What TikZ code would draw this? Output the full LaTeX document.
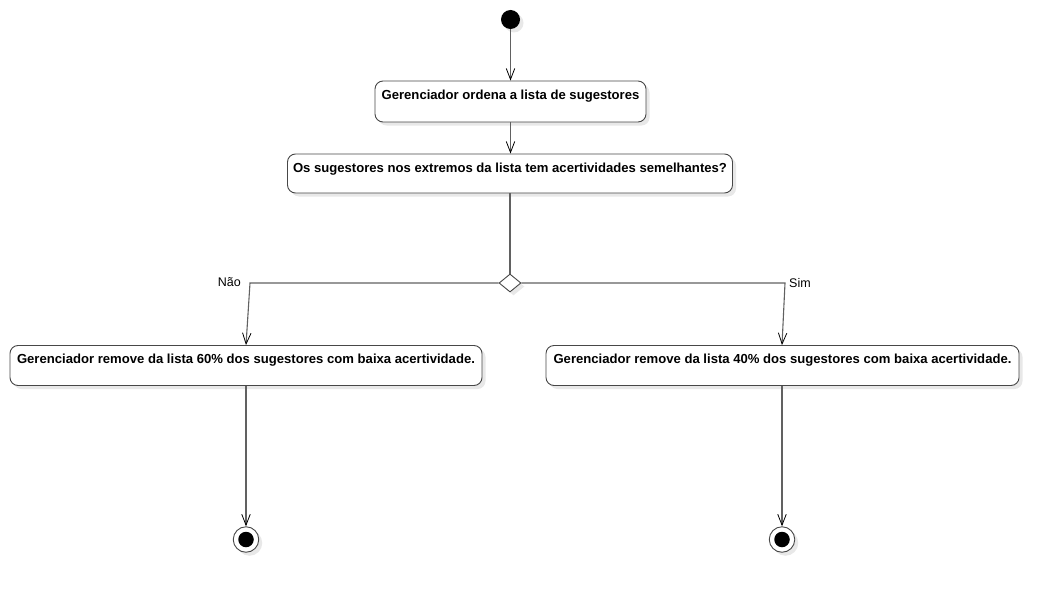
\documentclass[tikz,border=0pt]{standalone}
\usepackage{fontspec}
\setmainfont{Liberation Sans}
\usetikzlibrary{arrows.meta,shapes.geometric,calc,shadows}
\begin{document}
\begin{tikzpicture}[x=1pt,y=-1pt,
  flow/.style={draw=black!62, line width=1.1pt, -{Straight Barb[length=11pt,width=8.5pt,line width=0.8pt,color=black]}},
  plain/.style={draw=black!62, line width=1.1pt},
  shad/.style={drop shadow={shadow xshift=3.5pt,shadow yshift=-3.5pt,fill=black!9,opacity=1}},
  actbox/.style={draw=black!72, line width=0.9pt, rounded corners=8pt, fill=white, inner sep=0pt, shad},
  acttxt/.style={font=\fontsize{13.1}{15}\selectfont\bfseries, inner sep=0pt, anchor=base},
  lbl/.style={font=\fontsize{12.5}{14}\selectfont, inner sep=0pt},
  dec/.style={diamond, draw=black!72, line width=0.9pt, fill=white, minimum width=22pt, minimum height=18pt, inner sep=0pt, shad},
  startnode/.style={circle, fill=black, minimum size=19pt, inner sep=0pt, shad},
  endouter/.style={circle, draw=black!72, line width=0.9pt, fill=white, minimum size=25.5pt, inner sep=0pt, shad},
  endinner/.style={circle, fill=black, minimum size=15.5pt, inner sep=0pt}
]
\useasboundingbox (0,0) rectangle (1059,591);

\node[startnode] (start) at (510.5,19.5) {};

\node[actbox, minimum width=271pt, minimum height=41pt] (b1) at (510.5,101.5) {};
\node[acttxt] (t1) at ($(b1.north)+(0,19)$) {Gerenciador ordena a lista de sugestores};

\node[actbox, minimum width=445pt, minimum height=39pt] (b2) at (510,173.5) {};
\node[acttxt] (t2) at ($(b2.north)+(0,18.5)$) {Os sugestores nos extremos da lista tem acertividades semelhantes?};

\node[dec] (d) at (510,283) {};

\node[actbox, minimum width=472pt, minimum height=40pt] (bl) at (246,365.5) {};
\node[acttxt] (tl) at ($(bl.north)+(0,18.5)$) {Gerenciador remove da lista 60\% dos sugestores com baixa acertividade.};

\node[actbox, minimum width=473pt, minimum height=40pt] (br) at (782.5,365.5) {};
\node[acttxt] (tr) at ($(br.north)+(0,18.5)$) {Gerenciador remove da lista 40\% dos sugestores com baixa acertividade.};

\node[endouter] (e1) at (246,539.5) {};
\node[endinner] (e1i) at (e1) {};
\node[endouter] (e2) at (782,539.5) {};
\node[endinner] (e2i) at (e2) {};

\coordinate (cl) at (250,283);
\coordinate (cr) at (785,283);

\draw[flow] (start) -- (b1);
\draw[flow] (b1) -- (b2.north -| b1.south);
\draw[plain] (b2.south -| d) -- (d.north);
\draw[flow] (d.west) -- (cl) -- (bl.north);
\draw[flow] (d.east) -- (cr) -- (br.north -| 782,0);
\draw[flow] (bl.south) -- (e1);
\draw[flow] (br.south -| e2) -- (e2);

\node[lbl, anchor=east] (lnao) at (241,282) {Não};
\node[lbl, anchor=west] (lsim) at (789,283) {Sim};
\end{tikzpicture}
\end{document}
